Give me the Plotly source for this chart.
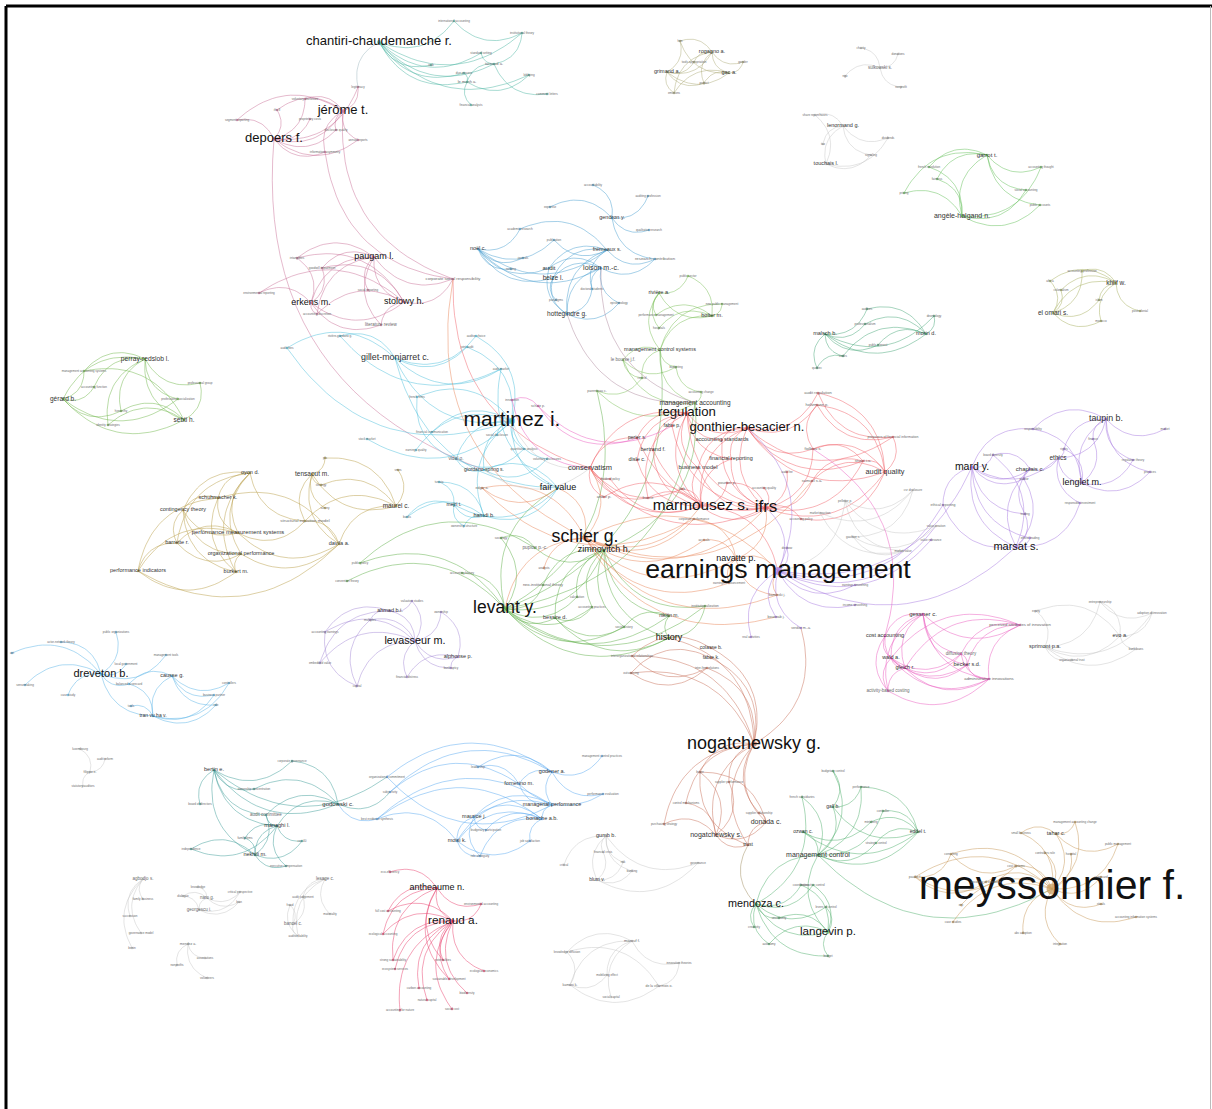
import numpy as np
import plotly.graph_objects as go

# ---------------- cluster colours ----------------
C_TEAL = "#4db6a4"
C_MAUVE = "#c9729a"
C_BLUE1 = "#4a9fd0"
C_GREENL = "#7cc05a"
C_CYAN = "#4fc0dd"
C_GREENP = "#72b84e"
C_OLIVE = "#b9a04a"
C_BLUED = "#59b3e6"
C_PURPL = "#a68bd6"
C_GREENLV = "#5fb04a"
C_RED = "#f0626a"
C_ORANGE = "#e8875a"
C_PURPE = "#a77be0"
C_GRAY = "#c8c8c8"
C_MAGENTA = "#ea5cc0"
C_BROWN = "#c8705a"
C_TEAL2 = "#3f9e98"
C_BLUE2 = "#5aaaf0"
C_CRIMSON = "#e8426e"
C_GREENM = "#52b06e"
C_TAN = "#c89a5a"
C_OLIVEG = "#b0ad7c"
C_OLIVEK = "#a8b060"
C_TEALM = "#4aa87a"
C_GREENG = "#63c05a"

# ---------------- nodes (label, x, y, label size) and links ----------------
TEAL_NODES = [("chantiri-chaudemanche r.", 379, 42, 13), ("tarnaud a.", 494, 64, 4), ("le manh a.", 467, 82, 4),
              ("international accounting", 454, 21, 3), ("institutional theory", 522, 33, 3),
              ("standard setting", 481, 53, 3), ("iasb", 431, 65, 3), ("due process", 464, 73, 3),
              ("lobbying", 529, 75, 3), ("comment letters", 547, 94, 3), ("financial analysts", 471, 105, 3)]
TEAL_EDGES = [(0, 3), (0, 4), (0, 5), (0, 6), (0, 7), (0, 2), (0, 1), (0, 8), (1, 4), (1, 2), (2, 7), (2, 10),
              (2, 8), (1, 9), (5, 1), (3, 4)]

MAUVE1_NODES = [("jérôme t.", 343, 111, 13), ("depoers f.", 274, 139, 13), ("legitimacy", 358, 87, 3),
                ("voluntary disclosure", 305, 99, 3), ("ifrs 8", 277, 110, 3), ("segment reporting", 237, 120, 3),
                ("proprietary costs", 310, 119, 3), ("disclosure quality", 336, 130, 3),
                ("annual reports", 358, 140, 3), ("information asymmetry", 325, 152, 3)]
MAUVE1_EDGES = [(1, 3), (1, 4), (1, 5), (1, 6), (1, 7), (1, 0), (1, 2), (1, 9), (0, 3), (0, 4), (0, 2), (0, 8),
                (0, 7), (0, 9), (0, 5), (1, 8)]

MAUVE2_NODES = [("paugam l.", 374, 257, 9), ("erkens m.", 311, 303, 9), ("stolowy h.", 404, 302, 9),
                ("intangibles", 297, 258, 3), ("goodwill impairment", 322, 268, 3),
                ("environmental reporting", 259, 293, 3), ("social reporting", 368, 290, 3),
                ("accounting discretion", 317, 314, 3), ("literature review", 381, 325, 4.5),
                ("corporate social responsibility", 453, 279, 4.2)]
MAUVE2_EDGES = [(0, 3), (0, 4), (0, 1), (0, 2), (0, 6), (0, 8), (0, 7), (1, 5), (1, 2), (1, 3), (1, 4), (1, 8),
                (2, 5), (2, 3), (2, 4), (2, 9), (0, 9), (1, 7), (2, 7), (2, 8)]

BLUE1_NODES = [("gendron y.", 612, 218, 5.5), ("accountability", 593, 185, 3), ("auditing profession", 648, 196, 3),
               ("expertise", 550, 207, 3), ("qualitative research", 649, 230, 3), ("noël c.", 478, 249, 5.5),
               ("frémeaux s.", 607, 250, 5.5), ("loison m.-c.", 601, 268, 7), ("audit", 549, 268, 6),
               ("belze l.", 553, 278, 6.5), ("research contribution", 655, 259, 4.3),
               ("hottegindre g.", 567, 314, 6.5), ("academic research", 520, 229, 3), ("publication", 554, 240, 3),
               ("journals", 523, 258, 3), ("ranking", 511, 269, 3), ("doctoral students", 592, 289, 3),
               ("paradigms", 556, 300, 3), ("epistemology", 619, 303, 3)]
BLUE1_EDGES = [(0, 1), (0, 2), (0, 3), (0, 4), (0, 10), (5, 12), (5, 13), (5, 14), (5, 15), (5, 6), (5, 7), (5, 9),
               (5, 8), (6, 12), (6, 9), (6, 8), (6, 10), (6, 16), (6, 11), (7, 10), (7, 9), (7, 18), (7, 11),
               (7, 16), (9, 17), (9, 11), (8, 11), (11, 16), (11, 18), (7, 8), (13, 6)]

GREENL_NODES = [("rivière a.", 659, 293, 5.5), ("bolter m.", 712, 316, 5.5),
                ("management control systems", 660, 350, 5.5), ("le bourse j.f.", 623, 360, 4.5),
                ("public sector", 688, 276, 3), ("new public management", 722, 304, 3),
                ("performance management", 656, 315, 3), ("hospitals", 659, 328, 3), ("budgeting", 676, 367, 3),
                ("parenteau c.", 597, 391, 3.5), ("control", 642, 378, 3), ("accounting change", 701, 392, 3),
                ("management accounting", 695, 403, 6.5)]
GREENL_EDGES = [(0, 4), (0, 1), (0, 6), (0, 7), (0, 2), (1, 4), (1, 5), (1, 7), (1, 2), (1, 6), (2, 3), (2, 8),
                (2, 10), (3, 10), (3, 8), (8, 11), (9, 10), (9, 12), (12, 11), (2, 12), (5, 2), (3, 12)]

CYAN_NODES = [("gillet-monjarret c.", 395, 358, 8.9), ("rivière-giordano g.", 340, 336, 3), ("audit fees", 287, 348, 3),
              ("auditor choice", 476, 336, 3), ("joint audit", 467, 347, 3), ("audit market", 501, 369, 3),
              ("martinez i.", 512, 421, 21), ("french firms", 417, 397, 3), ("financial communication", 432, 432, 3),
              ("earnings quality", 416, 450, 3), ("vidal o.", 456, 459, 4.8), ("giordano-spring s.", 484, 470, 5),
              ("social disclosure", 497, 435, 3), ("quantitative analysis", 524, 449, 3),
              ("voluntary disclosures", 547, 459, 3), ("fair value", 558, 488, 9), ("mejri t.", 454, 505, 5),
              ("hamdi b.", 484, 516, 5.5), ("tunisia", 439, 482, 3), ("banks", 407, 517, 3),
              ("ownership structure", 464, 526, 3), ("stock market", 367, 439, 3)]
CYAN_EDGES = [(0, 1), (0, 2), (0, 3), (0, 4), (0, 5), (0, 6), (1, 5), (2, 6), (21, 6), (6, 7), (6, 8), (6, 9),
              (6, 10), (6, 11), (6, 12), (6, 13), (6, 14), (6, 15), (6, 17), (6, 4), (10, 11), (10, 13), (11, 14),
              (7, 10), (16, 17), (16, 18), (16, 19), (16, 20), (17, 20), (17, 19), (16, 15), (17, 18), (17, 15),
              (15, 11), (5, 15), (6, 3)]

GREENP_NODES = [("perray-redslob l.", 145, 359, 6.7), ("gérard b.", 63, 399, 6.5), ("sebti h.", 184, 420, 6.5),
                ("management accounting systems", 84, 371, 3), ("accounting function", 94, 387, 3),
                ("professional group", 200, 383, 3), ("professional socialization", 178, 399, 3),
                ("hierarchy", 121, 411, 3), ("identity strategies", 108, 425, 3)]
GREENP_EDGES = [(0, 3), (0, 4), (0, 5), (0, 6), (0, 7), (0, 8), (0, 1), (0, 2), (1, 4), (1, 2), (1, 7), (1, 6),
                (2, 5), (2, 7), (2, 8), (2, 3), (1, 3)]

OLIVE_NODES = [("oyon d.", 250, 473, 5.5), ("tensaout m.", 312, 474, 6.5), ("schuhmacher k.", 218, 498, 5.5),
               ("contingency theory", 183, 510, 5.5), ("maurel c.", 396, 506, 6.5),
               ("structural equation model", 305, 521, 4.4), ("performance measurement systems", 238, 533, 5.8),
               ("barrette r.", 177, 543, 5.5), ("davila a.", 339, 544, 5.5),
               ("organizational performance", 241, 554, 5.5), ("performance indicators", 138, 571, 5.5),
               ("burkert m.", 236, 572, 5.5), ("pls", 325, 458, 3), ("strategy", 321, 485, 3),
               ("survey", 325, 508, 3), ("smes", 398, 470, 3)]
OLIVE_EDGES = [(0, 2), (0, 3), (0, 6), (0, 11), (0, 9), (0, 5), (0, 7), (1, 12), (1, 13), (1, 14), (1, 4), (1, 5),
               (1, 8), (4, 15), (4, 12), (4, 5), (4, 8), (4, 13), (2, 3), (2, 6), (2, 10), (2, 11), (3, 7), (3, 6),
               (3, 9), (3, 11), (6, 7), (6, 8), (6, 10), (6, 5), (7, 10), (7, 9), (9, 8), (9, 11), (10, 11),
               (10, 8), (8, 5), (8, 2)]

BLUED_NODES = [("dreveton b.", 101, 674, 11), ("causse g.", 172, 676, 5.5), ("tran vu ha v.", 153, 716, 5),
               ("public organizations", 116, 632, 3), ("actor-network theory", 61, 642, 3), ("ant", 12, 653, 3),
               ("balanced scorecard", 129, 684, 3), ("management tools", 166, 655, 3),
               ("local government", 126, 664, 3), ("sensemaking", 25, 685, 3), ("case study", 68, 695, 3),
               ("controllers", 229, 683, 3), ("business partner", 214, 695, 3), ("role", 216, 705, 3),
               ("tools", 131, 706, 3)]
BLUED_EDGES = [(0, 3), (0, 4), (0, 5), (0, 7), (0, 8), (0, 9), (0, 10), (0, 6), (1, 6), (1, 11), (1, 12), (1, 13),
               (1, 2), (2, 11), (2, 12), (2, 13), (2, 14), (2, 6), (0, 2)]

PURPL_NODES = [("levasseur m.", 415, 641, 10.8), ("ahmad b.i.", 390, 611, 5.5), ("alphonse p.", 458, 657, 5.5),
               ("valuation studies", 412, 601, 3), ("ownership", 441, 612, 3), ("multiples", 370, 620, 3),
               ("accounting earnings", 325, 632, 3), ("embedded value", 320, 663, 3), ("capital", 357, 686, 3),
               ("bankruptcy", 451, 668, 3), ("financial distress", 407, 677, 3)]
PURPL_EDGES = [(0, 1), (0, 2), (0, 3), (0, 4), (0, 5), (0, 6), (0, 7), (0, 8), (0, 9), (0, 10), (1, 3), (1, 5),
               (1, 6), (1, 7), (2, 9), (2, 10), (2, 4), (6, 8), (5, 8)]

GREENLV_NODES = [("levant y.", 505, 609, 17.5), ("bessire d.", 555, 618, 5.5), ("zimnovitch h.", 604, 550, 9),
                 ("pupion p.-c.", 535, 548, 4.8), ("neo-institutional theory", 543, 585, 4),
                 ("nikitin m.", 669, 616, 5), ("history", 669, 638, 9), ("institutionalization", 705, 606, 3.5),
                 ("accounting history", 462, 573, 3), ("sociology", 501, 538, 3),
                 ("accounting practices", 592, 607, 3), ("social history", 624, 627, 3),
                 ("convention theory", 347, 581, 3), ("public policy", 360, 563, 3), ("calculation", 577, 597, 3)]
GREENLV_EDGES = [(0, 1), (0, 2), (0, 4), (0, 8), (0, 9), (0, 10), (0, 11), (0, 6), (0, 5), (0, 7), (0, 12),
                 (0, 13), (2, 6), (2, 5), (2, 1), (2, 10), (2, 11), (2, 7), (2, 4), (1, 10), (1, 11), (1, 6),
                 (5, 6), (5, 11), (6, 7), (3, 2), (3, 9), (3, 13), (0, 14), (2, 14)]

RED_NODES = [("regulation", 687, 413, 13.2), ("gonthier-besacier n.", 747, 428, 13),
             ("accounting standards", 722, 440, 5.6), ("fabre p.", 672, 426, 5), ("perier s.", 637, 438, 5),
             ("bertrand f.", 653, 450, 5.5), ("disle c.", 637, 460, 5.5), ("financial reporting", 731, 459, 5.5),
             ("business model", 698, 468, 5.6), ("conservatism", 590, 468, 7.5), ("marmousez s.", 701, 506, 15.4),
             ("ifrs", 766, 508, 17), ("audit quality", 885, 472, 7.3), ("audit regulation", 818, 393, 4),
             ("holtzmann p.", 817, 405, 4), ("preparers of financial information", 893, 437, 3.5),
             ("fiolleau s.", 813, 449, 4), ("stuart i.a.", 863, 461, 4), ("samuel s.a.", 812, 481, 4),
             ("dividend policy", 610, 479, 3), ("andré p.", 604, 497, 4), ("fasb", 682, 489, 3.5),
             ("france", 648, 498, 4), ("pourtier p.", 727, 483, 4), ("accounting quality", 764, 488, 3),
             ("audit fee", 787, 472, 3), ("accounting policy", 801, 519, 3)]
RED_EDGES = [(0, 3), (0, 1), (0, 2), (0, 4), (0, 5), (0, 6), (0, 7), (0, 8), (0, 9), (0, 10), (0, 11), (0, 22),
             (1, 2), (1, 7), (1, 11), (1, 13), (1, 14), (1, 15), (1, 16), (1, 12), (1, 10), (1, 8), (1, 17), (2, 11),
             (7, 11), (7, 10), (8, 11), (8, 10), (9, 20), (9, 19), (9, 10), (9, 11), (9, 22), (9, 21), (10, 11),
             (10, 21), (10, 22), (10, 20), (10, 23), (11, 23), (11, 12), (11, 17), (11, 18), (11, 16), (11, 25),
             (11, 24), (12, 17), (12, 18), (12, 16), (12, 13), (12, 14), (12, 15), (13, 15), (14, 15), (14, 16),
             (17, 18), (17, 16), (4, 11), (5, 11), (6, 10), (5, 10), (4, 9), (3, 11), (26, 11), (26, 12), (19, 10)]

ORANGE_NODES = [("schier g.", 585, 538, 17.7), ("navatte p.", 736, 559, 9), ("edgar a.", 482, 488, 3.5),
                ("corporate performance", 694, 519, 3), ("accruals", 704, 540, 3),
                ("earnings announcement", 729, 583, 3), ("kaminski j.", 777, 595, 3.5), ("analysts", 544, 568, 3)]
ORANGE_EDGES = [(0, 1), (0, 2), (0, 3), (0, 4), (0, 5), (0, 6), (0, 7), (1, 5), (1, 6), (1, 4), (1, 3), (2, 3)]

PURPE_NODES = [("earnings management", 778, 571, 26.7), ("mard y.", 972, 467, 10.5),
               ("ethical reporting", 943, 505, 3.5), ("board diversity", 993, 455, 3), ("chaplais c.", 1030, 469, 6),
               ("auditor", 1024, 479, 3), ("ethics", 1058, 458, 6.5), ("rights", 1064, 449, 3),
               ("finance", 1093, 439, 3), ("responsibility", 1033, 429, 3), ("taupin b.", 1106, 419, 8.9),
               ("market", 1165, 429, 3), ("regulation theory", 1133, 460, 3), ("practices", 1150, 472, 3),
               ("lenglet m.", 1082, 483, 9), ("responsible investment", 1080, 503, 3), ("trading", 1025, 514, 3),
               ("ethical trading", 1030, 538, 3), ("marsat s.", 1016, 547, 11), ("bouzinab j.", 776, 617, 3.5),
               ("verdier m.-a.", 801, 628, 3.5), ("real activities", 751, 637, 3), ("dechow", 787, 548, 3),
               ("earnings smoothing", 855, 585, 3), ("income smoothing", 855, 605, 3),
               ("value relevance", 931, 540, 3)]
PURPE_EDGES = [(0, 1), (0, 18), (0, 2), (0, 19), (0, 20), (0, 21), (0, 22), (0, 23), (0, 24), (0, 25), (1, 3),
               (1, 4), (1, 5), (1, 2), (1, 18), (1, 6), (1, 16), (1, 17), (4, 6), (4, 5), (4, 18), (4, 16), (4, 3),
               (6, 7), (6, 14), (6, 10), (6, 15), (10, 8), (10, 9), (10, 11), (10, 12), (10, 13), (10, 14), (10, 7),
               (14, 8), (14, 12), (14, 13), (14, 9), (14, 7), (18, 16), (18, 17), (18, 5), (18, 15), (18, 3),
               (9, 1), (2, 18)]

GRAYC_NODES = [("pelletier p.", 845, 501, 3), ("csr disclosure", 913, 490, 3), ("gauthier s.", 853, 537, 3),
               ("market reaction", 820, 513, 3), ("value creation", 936, 526, 3), ("market value", 903, 551, 3)]
GRAYC_EDGES = [(0, 1), (0, 4), (2, 1), (2, 4), (3, 1), (3, 5), (0, 5), (2, 5)]

MAGENTA_NODES = [("gessner c.", 923, 614, 6), ("perceived attributes of innovation", 1020, 625, 4.2),
                 ("cost accounting", 885, 636, 5.5), ("wald a.", 891, 658, 5.5), ("gleich r.", 905, 668, 5.5),
                 ("diffusion theory", 961, 654, 4.5), ("becker s.d.", 967, 665, 5.5),
                 ("administrative innovations", 989, 679, 4.3), ("activity-based costing", 888, 691, 4.5),
                 ("schatz p.", 538, 406, 3.5), ("innovation", 512, 400, 3)]
MAGENTA_EDGES = [(0, 1), (0, 2), (0, 3), (0, 4), (0, 5), (0, 6), (0, 7), (0, 8), (1, 3), (1, 4), (1, 6), (1, 7),
                 (1, 5), (2, 3), (2, 4), (2, 8), (3, 4), (3, 5), (3, 6), (3, 7), (3, 8), (4, 6), (4, 5), (4, 7),
                 (4, 8), (6, 7), (6, 5), (5, 7), (8, 7), (9, 10)]

GRAYS_NODES = [("evo a.", 1120, 636, 5.5), ("sprimont p.a.", 1045, 647, 5.5), ("equity", 1036, 611, 3),
               ("entrepreneurship", 1100, 602, 3), ("adoption of innovation", 1152, 613, 3),
               ("bank loans", 1136, 649, 3), ("organizational trust", 1072, 660, 3)]
GRAYS_EDGES = [(1, 2), (1, 3), (1, 4), (1, 0), (1, 5), (1, 6), (0, 3), (0, 4), (0, 5), (0, 2), (3, 4)]

BROWN_NODES = [("nogatchewsky g.", 754, 744, 18), ("nogatchewsky s.", 716, 835, 7), ("donada c.", 766, 822, 7),
               ("trust", 748, 845, 5), ("buyer", 700, 772, 3), ("supplier performance", 729, 782, 3),
               ("control mechanisms", 686, 803, 3), ("purchasing strategy", 664, 824, 3),
               ("supplier relationship", 759, 813, 3), ("interorganizational relationships", 632, 656, 3),
               ("outsourcing", 631, 673, 3), ("inter-firm relations", 707, 668, 3), ("colasse b.", 711, 648, 5),
               ("fabre k.", 711, 658, 5)]
BROWN_EDGES = [(0, 4), (0, 5), (0, 6), (0, 7), (0, 8), (0, 2), (0, 1), (0, 3), (0, 9), (0, 10), (0, 11), (1, 4),
               (1, 6), (1, 7), (1, 2), (1, 3), (1, 5), (2, 4), (2, 3), (2, 8), (4, 3), (9, 11), (10, 11), (0, 12),
               (0, 13), (12, 9), (13, 10)]

TEAL2_NODES = [("bertin e.", 214, 770, 5.5), ("godowski c.", 338, 804, 6), ("audit committee", 266, 815, 4.5),
               ("managhi l.", 277, 826, 5.5), ("nekhili m.", 255, 855, 5.5), ("corporate governance", 292, 761, 3),
               ("board of directors", 200, 804, 3), ("ownership concentration", 254, 789, 3),
               ("family firms", 245, 838, 3), ("independence", 191, 849, 3), ("cac 40", 302, 841, 3),
               ("executive compensation", 286, 866, 3)]
TEAL2_EDGES = [(0, 5), (0, 6), (0, 7), (0, 2), (0, 1), (0, 3), (0, 4), (1, 5), (1, 7), (1, 2), (1, 3), (2, 3),
               (3, 8), (3, 10), (3, 4), (3, 11), (4, 9), (4, 8), (4, 10), (4, 11), (4, 2), (9, 3)]

BLUE2_NODES = [("godener a.", 552, 772, 5.5), ("fornerino m.", 519, 784, 5.5),
               ("managerial performance", 552, 805, 5.4), ("bonache a.b.", 542, 819, 5.5),
               ("maurice j.", 474, 817, 5.5), ("moisi k.", 457, 841, 5.5), ("leadership", 478, 767, 3),
               ("management control practices", 602, 756, 3), ("performance evaluation", 603, 794, 3),
               ("budgetary participation", 486, 830, 3), ("job satisfaction", 530, 841, 3),
               ("role ambiguity", 480, 856, 3), ("organizational commitment", 387, 777, 3),
               ("subjectivity", 390, 792, 3), ("best evidence synthesis", 377, 819, 3)]
BLUE2_EDGES = [(0, 6), (0, 7), (0, 1), (0, 8), (0, 2), (0, 13), (0, 12), (1, 6), (1, 13), (1, 2), (1, 8), (2, 3),
               (2, 4), (2, 5), (2, 14), (3, 4), (3, 9), (3, 10), (3, 5), (3, 11), (3, 14), (4, 5), (4, 9), (4, 11),
               (5, 10), (5, 14), (5, 11), (12, 2)]

CRIMSON_NODES = [("antheaume n.", 437, 888, 9), ("renaud a.", 453, 921, 11.8),
                 ("environmental accounting", 481, 904, 3), ("externalities", 443, 960, 3),
                 ("ecological economics", 484, 971, 3), ("sustainable development", 449, 979, 3),
                 ("carbon accounting", 419, 988, 3), ("biodiversity", 467, 993, 3), ("natural capital", 427, 1000, 3),
                 ("social cost", 452, 1009, 3), ("eco-efficiency", 390, 872, 3), ("full cost accounting", 388, 911, 3),
                 ("ecological accounting", 383, 934, 3), ("strong sustainability", 393, 960, 3),
                 ("ecosystem services", 395, 969, 3), ("accounting for nature", 400, 1010, 3)]
CRIMSON_EDGES = [(1, 3), (1, 4), (1, 5), (1, 6), (1, 7), (1, 8), (1, 9), (1, 11), (1, 12), (1, 13), (1, 14),
                 (1, 15), (0, 1), (0, 2), (0, 10), (0, 11), (0, 12), (0, 3), (0, 5), (0, 13), (1, 2)]

GREENM_NODES = [("mendoza c.", 756, 904, 10.8), ("langevin p.", 828, 932, 11.6), ("management control", 818, 855, 7),
                ("gall b.", 833, 807, 5), ("ozwan c.", 803, 832, 5), ("eddel t.", 918, 832, 5),
                ("budgetary control", 833, 771, 3), ("performance", 861, 787, 3), ("controller", 883, 811, 3),
                ("mintzberg", 871, 822, 3), ("strategic control", 876, 843, 3), ("interactive control", 813, 885, 3),
                ("levers of control", 826, 907, 3), ("budget", 828, 956, 3), ("coordination", 801, 885, 3),
                ("uncertainty", 779, 918, 3), ("creativity", 754, 927, 3), ("autonomy", 769, 944, 3),
                ("french subsidiaries", 802, 797, 3)]
GREENM_EDGES = [(2, 3), (2, 4), (2, 5), (2, 0), (2, 1), (2, 6), (2, 7), (2, 8), (2, 10), (3, 6), (3, 7), (3, 5),
                (4, 5), (4, 9), (5, 8), (5, 9), (5, 10), (5, 7), (0, 1), (0, 11), (0, 12), (0, 13), (0, 15), (0, 16),
                (0, 17), (0, 14), (0, 18), (1, 11), (1, 12), (1, 13), (1, 14), (1, 15), (1, 17), (2, 18)]

TAN_NODES = [("meyssonnier f.", 1052, 889, 41), ("tahar c.", 1056, 834, 5.5),
             ("management accounting change", 1075, 822, 3), ("small business", 1021, 833, 3),
             ("public management", 1118, 844, 3), ("consulting", 951, 854, 3), ("controllers role", 1045, 853, 3),
             ("hospital", 1071, 854, 3), ("cost systems", 1016, 866, 3), ("paulin f.", 915, 877, 3.5),
             ("sociology of translation", 986, 882, 3), ("erp", 961, 905, 3), ("rituals", 1101, 904, 3),
             ("accounting information systems", 1136, 917, 3), ("case studies", 953, 922, 3),
             ("abc adoption", 1023, 933, 3), ("integration", 1060, 944, 3), ("scorecard", 1101, 877, 3)]
TAN_EDGES = [(0, 1), (0, 2), (0, 3), (0, 4), (0, 5), (0, 6), (0, 7), (0, 8), (0, 9), (0, 10), (0, 11), (0, 12),
             (0, 13), (0, 14), (0, 15), (0, 16), (0, 17), (1, 2), (1, 3), (1, 4), (9, 5), (9, 10), (5, 8), (9, 8)]

OLIVEG_NODES = [("grimand a.", 667, 72, 5.5), ("rogagno a.", 712, 52, 5.5), ("gac a.", 729, 73, 5.5),
                ("hrm", 680, 41, 3), ("tools appropriation", 694, 62, 3), ("gender", 743, 62, 3),
                ("project", 704, 83, 3), ("emotions", 674, 93, 3)]
OLIVEG_EDGES = [(0, 3), (0, 1), (0, 4), (0, 6), (0, 7), (0, 2), (1, 3), (1, 5), (1, 2), (1, 6), (1, 7), (1, 4),
                (2, 5), (2, 7), (2, 6), (3, 2)]

OLIVEK_NODES = [("khlif w.", 1116, 283, 6.5), ("el omari s.", 1053, 313, 6.5), ("accounting profession", 1082, 271, 3),
                ("africa", 1050, 281, 3), ("colonialism", 1061, 290, 3), ("islam", 1099, 300, 3),
                ("postcolonial", 1140, 311, 3), ("morocco", 1101, 321, 3)]
OLIVEK_EDGES = [(0, 2), (0, 3), (0, 4), (0, 5), (0, 6), (0, 7), (0, 1), (1, 3), (1, 4), (1, 5), (1, 7), (1, 2)]

TEALM_NODES = [("malsch b.", 825, 334, 5.5), ("morin d.", 926, 334, 5.5), ("auditors", 867, 309, 3),
               ("professionalism", 865, 324, 3), ("deontology", 934, 316, 3), ("public interest", 878, 345, 3),
               ("codes", 843, 356, 3), ("quebec", 817, 368, 3)]
TEALM_EDGES = [(0, 2), (0, 3), (0, 4), (0, 1), (0, 5), (0, 6), (0, 7), (1, 2), (1, 3), (1, 4), (1, 5), (1, 6),
               (6, 7)]

GREENG_NODES = [("garrot t.", 987, 155, 6), ("angèle-halgand n.", 962, 216, 7), ("french revolution", 929, 167, 3),
                ("fairness", 937, 179, 3), ("pricing", 904, 193, 3), ("accounting thought", 1041, 167, 3),
                ("social accounting", 1026, 190, 3), ("public accounts", 1040, 205, 3)]
GREENG_EDGES = [(0, 2), (0, 3), (0, 4), (0, 5), (0, 6), (0, 7), (0, 1), (1, 2), (1, 3), (1, 4), (1, 5), (1, 6),
                (1, 7)]

LENORMAND_NODES = [("lenormand g.", 843, 126, 5.5), ("touchais l.", 826, 164, 5.5), ("share repurchases", 815, 115, 3),
                   ("tax", 823, 144, 3), ("dividends", 888, 138, 3), ("signaling", 871, 155, 3)]
LENORMAND_EDGES = [(0, 2), (0, 3), (0, 4), (0, 5), (0, 1), (1, 2), (1, 4), (1, 5)]

SULKOWSKI_NODES = [("sulkowski s.", 880, 68, 4.5), ("charity", 861, 48, 3), ("donations", 898, 54, 3),
                   ("ngo", 845, 76, 3), ("nonprofit", 901, 87, 3)]
SULKOWSKI_EDGES = [(0, 1), (0, 2), (0, 3), (0, 4)]

GUMB_NODES = [("gumb b.", 606, 836, 5.5), ("blum v.", 597, 880, 5), ("financial crisis", 603, 852, 3),
              ("critical", 564, 865, 3), ("risk", 623, 862, 3), ("banking", 632, 871, 3), ("governance", 698, 863, 3)]
GUMB_EDGES = [(0, 2), (0, 3), (0, 4), (0, 5), (0, 1), (0, 6), (1, 2), (1, 4), (1, 5), (1, 6)]

MAROUF_NODES = [("marouf f.", 632, 941, 4), ("knowledge diffusion", 567, 952, 3), ("innovation theories", 679, 963, 3),
                ("mobilizing effect", 607, 975, 3), ("kamani k.", 570, 985, 3.5), ("de la villarmois o.", 659, 986, 3.5),
                ("social capital", 611, 997, 3)]
MAROUF_EDGES = [(0, 1), (0, 2), (0, 3), (0, 6), (4, 1), (4, 3), (4, 5), (5, 1), (5, 2), (0, 4)]

FILIPPO_NODES = [("filippo e.", 90, 772, 3.5), ("luxembourg", 80, 749, 3), ("audit reform", 105, 759, 3),
                 ("statutory auditors", 83, 786, 3)]
FILIPPO_EDGES = [(0, 1), (0, 2), (0, 3)]

AGBODJO_NODES = [("agbodjo s.", 143, 879, 4.5), ("family business", 143, 899, 3), ("succession", 130, 916, 3),
                 ("governance model", 141, 933, 3), ("benin", 132, 948, 3)]
AGBODJO_EDGES = [(0, 1), (0, 2), (0, 3), (0, 4)]

NARO_NODES = [("naro g.", 207, 898, 4.5), ("georgescu i.", 199, 910, 4.5), ("knowledge", 198, 887, 3),
              ("dialogue", 183, 896, 3), ("critical perspective", 240, 892, 3), ("lean", 239, 902, 3)]
NARO_EDGES = [(0, 2), (0, 3), (0, 4), (0, 5), (1, 3), (1, 4), (1, 5), (0, 1)]

LESAGE_NODES = [("lesage c.", 325, 879, 4.5), ("bancel c.", 293, 924, 4.5), ("audit judgement", 303, 897, 3),
                ("fraud", 290, 905, 3), ("materiality", 330, 914, 3), ("auditor liability", 298, 936, 3)]
LESAGE_EDGES = [(0, 2), (0, 4), (0, 1), (0, 5), (1, 3), (1, 2), (1, 5), (3, 5)]

MENDEZ_NODES = [("mendez a.", 188, 944, 3.5), ("nonprofits", 177, 965, 3), ("associations", 205, 958, 3),
                ("volunteers", 207, 978, 3)]
MENDEZ_EDGES = [(0, 1), (0, 2), (0, 3)]

# links between clusters: (source, target, colour)
CROSS_EDGES = [
    ("chantiri-chaudemanche r.", "legitimacy", "#9fb8c0"),
    ("jérôme t.", "corporate social responsibility", C_MAUVE),
    ("information asymmetry", "corporate social responsibility", C_MAUVE),
    ("depoers f.", "giordano-spring s.", C_MAUVE),
    ("corporate social responsibility", "schier g.", C_ORANGE),
    ("corporate social responsibility", "conservatism", C_RED),
    ("martinez i.", "conservatism", C_GRAY),
    ("giordano-spring s.", "conservatism", C_GRAY),
    ("gillet-monjarret c.", "fair value", C_CYAN),
    ("fair value", "levant y.", C_GREENLV),
    ("levant y.", "management accounting", C_GREENLV),
    ("levant y.", "management control systems", C_GREENLV),
    ("zimnovitch h.", "management accounting", C_GREENLV),
    ("levant y.", "parenteau c.", C_GREENLV),
    ("earnings management", "ifrs", C_PURPE),
    ("earnings management", "gonthier-besacier n.", C_PURPE),
    ("earnings management", "value creation", C_PURPE),
    ("earnings management", "marmousez s.", C_RED),
    ("earnings management", "schier g.", C_ORANGE),
    ("earnings management", "navatte p.", C_ORANGE),
    ("earnings management", "kaminski j.", C_ORANGE),
    ("earnings management", "pelletier p.", C_GRAY),
    ("schier g.", "ifrs", C_ORANGE),
    ("schier g.", "conservatism", C_ORANGE),
    ("schier g.", "fair value", C_ORANGE),
    ("schier g.", "marmousez s.", C_ORANGE),
    ("schier g.", "samuel s.a.", C_ORANGE),
    ("schier g.", "levant y.", C_ORANGE),
    ("schier g.", "bouzinab j.", C_ORANGE),
    ("edgar a.", "fair value", C_ORANGE),
    ("navatte p.", "ifrs", C_ORANGE),
    ("nogatchewsky g.", "history", C_BROWN),
    ("nogatchewsky g.", "verdier m.-a.", C_BROWN),
    ("trust", "mendoza c.", "#a08c60"),
    ("management control", "meyssonnier f.", C_GREENM),
    ("cost accounting", "fiolleau s.", C_MAGENTA),
    ("schatz p.", "perier s.", C_MAGENTA),
    ("schatz p.", "fabre p.", C_MAGENTA),
    ("innovation", "conservatism", C_MAGENTA),
    ("loison m.-c.", "management accounting", "#b08aa0"),
    ("hottegindre g.", "management accounting", "#b08aa0"),
    ("bertin e.", "organizational commitment", C_TEAL2),
    ("godowski c.", "subjectivity", C_TEAL2),
    ("godowski c.", "best evidence synthesis", C_BLUE2),
]

CLUSTERS = [
    (TEAL_NODES, TEAL_EDGES, C_TEAL), (MAUVE1_NODES, MAUVE1_EDGES, C_MAUVE), (MAUVE2_NODES, MAUVE2_EDGES, C_MAUVE),
    (BLUE1_NODES, BLUE1_EDGES, C_BLUE1), (GREENL_NODES, GREENL_EDGES, C_GREENL), (CYAN_NODES, CYAN_EDGES, C_CYAN),
    (GREENP_NODES, GREENP_EDGES, C_GREENP), (OLIVE_NODES, OLIVE_EDGES, C_OLIVE), (BLUED_NODES, BLUED_EDGES, C_BLUED),
    (PURPL_NODES, PURPL_EDGES, C_PURPL), (GREENLV_NODES, GREENLV_EDGES, C_GREENLV), (RED_NODES, RED_EDGES, C_RED),
    (ORANGE_NODES, ORANGE_EDGES, C_ORANGE), (PURPE_NODES, PURPE_EDGES, C_PURPE), (GRAYC_NODES, GRAYC_EDGES, C_GRAY),
    (MAGENTA_NODES, MAGENTA_EDGES, C_MAGENTA), (GRAYS_NODES, GRAYS_EDGES, C_GRAY),
    (BROWN_NODES, BROWN_EDGES, C_BROWN), (TEAL2_NODES, TEAL2_EDGES, C_TEAL2), (BLUE2_NODES, BLUE2_EDGES, C_BLUE2),
    (CRIMSON_NODES, CRIMSON_EDGES, C_CRIMSON), (GREENM_NODES, GREENM_EDGES, C_GREENM),
    (TAN_NODES, TAN_EDGES, C_TAN), (OLIVEG_NODES, OLIVEG_EDGES, C_OLIVEG), (OLIVEK_NODES, OLIVEK_EDGES, C_OLIVEK),
    (TEALM_NODES, TEALM_EDGES, C_TEALM), (GREENG_NODES, GREENG_EDGES, C_GREENG),
    (LENORMAND_NODES, LENORMAND_EDGES, C_GRAY), (SULKOWSKI_NODES, SULKOWSKI_EDGES, C_GRAY),
    (GUMB_NODES, GUMB_EDGES, C_GRAY), (MAROUF_NODES, MAROUF_EDGES, C_GRAY), (FILIPPO_NODES, FILIPPO_EDGES, C_GRAY),
    (AGBODJO_NODES, AGBODJO_EDGES, C_GRAY), (NARO_NODES, NARO_EDGES, C_GRAY), (LESAGE_NODES, LESAGE_EDGES, C_GRAY),
    (MENDEZ_NODES, MENDEZ_EDGES, C_GRAY),
]


def rgba(hexc, a):
    h = hexc.lstrip("#")
    r, g, b = int(h[0:2], 16), int(h[2:4], 16), int(h[4:6], 16)
    return f"rgba({r},{g},{b},{a})"


# registry of node positions
pos = {}
for nodes, _, col in CLUSTERS:
    for name, x, y, s in nodes:
        pos[name] = (x, y, s, col)

# edges grouped by colour
edge_groups = {}


def add_curve(a, b, col):
    x0, y0 = pos[a][0], pos[a][1]
    x1, y1 = pos[b][0], pos[b][1]
    dx, dy = x1 - x0, y1 - y0
    L = float(np.hypot(dx, dy))
    if L == 0:
        return
    mx, my = (x0 + x1) / 2, (y0 + y1) / 2
    cx, cy = mx - dy * 0.38, my + dx * 0.38
    t = np.linspace(0, 1, 24)
    bx = (1 - t) ** 2 * x0 + 2 * (1 - t) * t * cx + t ** 2 * x1
    by = (1 - t) ** 2 * y0 + 2 * (1 - t) * t * cy + t ** 2 * y1
    g = edge_groups.setdefault(col, ([], []))
    g[0].extend(list(bx) + [None])
    g[1].extend(list(by) + [None])


for nodes, edges, col in CLUSTERS:
    for i, j in edges:
        add_curve(nodes[i][0], nodes[j][0], col)
for a, b, col in CROSS_EDGES:
    add_curve(a, b, col)

fig = go.Figure()
for col, (xs, ys) in edge_groups.items():
    fig.add_trace(go.Scatter(x=xs, y=ys, mode="lines", line=dict(color=rgba(col, 0.55), width=0.9),
                             hoverinfo="skip", showlegend=False))

# node dots
nx = [v[0] for v in pos.values()]
ny = [v[1] for v in pos.values()]
nsize = [min(max(2.5, v[2] * 0.3), 11) for v in pos.values()]
ncol = [v[3] for v in pos.values()]
fig.add_trace(go.Scatter(x=nx, y=ny, mode="markers", marker=dict(size=nsize, color=ncol, line=dict(width=0)),
                         hoverinfo="skip", showlegend=False))

# labels
labels = list(pos.keys())
tsize = [v[2] for v in pos.values()]
tcol = ["#111111" if s >= 9 else ("#333333" if s >= 5 else "#6a6a6a") for s in tsize]
fig.add_trace(go.Scatter(x=nx, y=ny, mode="text", text=labels, textposition="middle center",
                         textfont=dict(size=tsize, color=tcol, family="Liberation Sans, Arial, sans-serif"),
                         hoverinfo="skip", showlegend=False, cliponaxis=False))

fig.update_layout(
    width=1212, height=1109,
    margin=dict(l=0, r=0, t=0, b=0),
    paper_bgcolor="white", plot_bgcolor="white",
    xaxis=dict(range=[0, 1212], visible=False, fixedrange=True),
    yaxis=dict(range=[1109, 0], visible=False, fixedrange=True),
    shapes=[
        dict(type="line", xref="x", yref="y", x0=6, y0=6, x1=6, y1=1109, line=dict(color="black", width=3)),
        dict(type="line", xref="x", yref="y", x0=6, y0=6, x1=1212, y1=6, line=dict(color="black", width=3)),
        dict(type="line", xref="x", yref="y", x0=1210.5, y0=6, x1=1210.5, y1=1109,
             line=dict(color="#bbbbbb", width=1)),
    ],
)

fig.write_html("out.html", post_script="document.body.style.margin='0';",
               config={"displayModeBar": False})
